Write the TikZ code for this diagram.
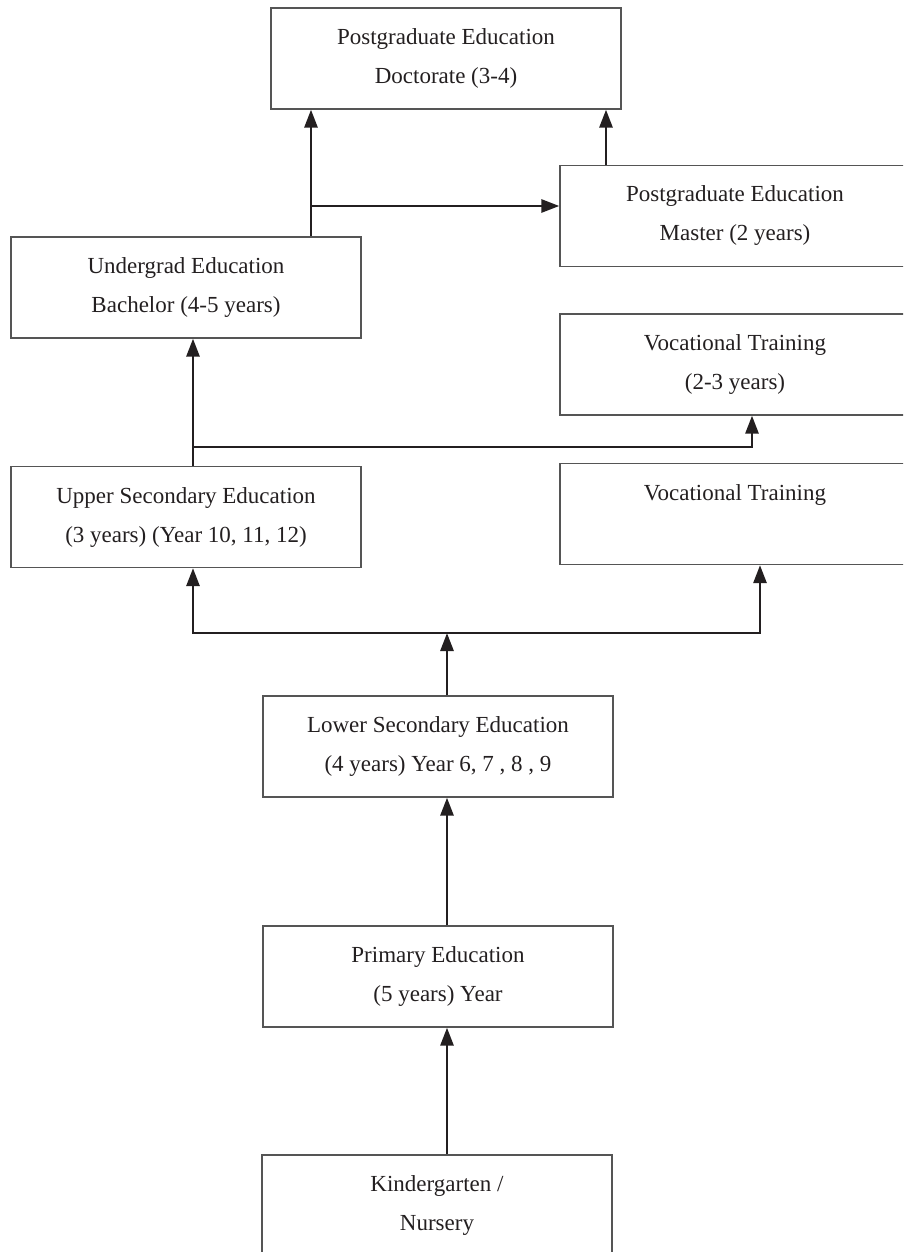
\documentclass[tikz,border=0pt]{standalone}
\usepackage{fontspec}
\setmainfont{Liberation Serif}
\usetikzlibrary{arrows.meta}
\definecolor{ink}{HTML}{231F20}
\definecolor{frame}{HTML}{555555}
\tikzset{
  stage/.style={draw=frame, line width=1.3pt, minimum width=350pt, minimum height=101pt,
    inner sep=0pt, align=center, text=ink, font=\fontsize{23}{39}\selectfont},
  flow/.style={draw=ink, line width=2.8pt, line join=miter},
  up/.style={flow, -{Triangle[length=18pt,width=13pt]}}
}
\begin{document}
\begin{tikzpicture}[x=1pt, y=-1pt]
\useasboundingbox (0,0) rectangle (903,1252);
\clip (0,0) rectangle (903,1252);

% stages of the school system
\node[stage] (doc)     at (446,58.5)  {Postgraduate Education\\Doctorate (3-4)};
\node[stage] (master)  at (735,216)   {Postgraduate Education\\Master (2 years)};
\node[stage] (ug)      at (186,287.5) {Undergrad Education\\Bachelor (4-5 years)};
\node[stage] (voctwo)  at (735,364.5) {Vocational Training\\(2-3 years)};
\node[stage] (upper)   at (186,517)   {Upper Secondary Education\\(3 years) (Year 10, 11, 12)};
\node[stage] (voc)     at (735,514)   {Vocational Training\\\phantom{(2-3 years)}};
\node[stage] (lower)   at (438,746.5) {Lower Secondary Education\\(4 years) Year 6, 7 , 8 , 9};
\node[stage] (primary) at (438,976.5) {Primary Education\\(5 years) Year};
\node[stage] (kinder)  at (437,1205.5){Kindergarten /\\Nursery};

% columns and rows where the connectors run
\coordinate (cmid)  at (447,0);
\coordinate (cleft) at (193,0);
\coordinate (cvoc)  at (760,0);
\coordinate (cvtwo) at (752,0);
\coordinate (cug)   at (311,0);
\coordinate (cms)   at (606,0);
\coordinate (rlow)  at (0,633);
\coordinate (rup)   at (0,447);
\coordinate (rug)   at (0,206);

% lower levels
\draw[up] (kinder.north -| cmid) -- (primary.south -| cmid);
\draw[up] (primary.north -| cmid) -- (lower.south -| cmid);
\draw[up] (lower.north -| cmid) -- (rlow -| cmid);

% split after lower secondary
\draw[up] (rlow -| cmid) -- (rlow -| cleft) -- (upper.south -| cleft);
\draw[up] (rlow -| cmid) -- (rlow -| cvoc) -- (voc.south -| cvoc);

% after upper secondary
\draw[up] (upper.north -| cleft) -- (ug.south -| cleft);
\draw[up] (rup -| cleft) -- (rup -| cvtwo) -- (voctwo.south -| cvtwo);

% after the bachelor
\draw[up] (ug.north -| cug) -- (doc.south -| cug);
\draw[up] (rug -| cug) -- (master.west |- rug);
\draw[up] (master.north -| cms) -- (doc.south -| cms);
\end{tikzpicture}
\end{document}
